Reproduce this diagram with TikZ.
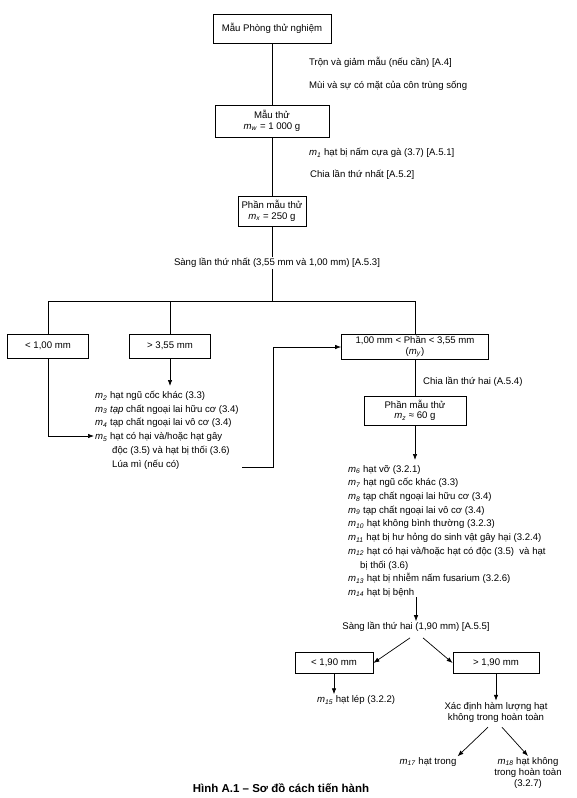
\documentclass[tikz,border=0pt]{standalone}
\usepackage{fontspec}
\setmainfont{Liberation Sans}
\usetikzlibrary{positioning, arrows.meta, calc}

\newcommand{\msub}[1]{\textit{m}\textsubscript{\textit{#1}}}

\begin{document}
\begin{tikzpicture}[
    x=1pt, y=-1pt,
    >=Latex,
    % Styles
    box/.style={
        rectangle,
        draw,
        line width=0.8pt,
        align=center,
        inner xsep=1pt,
        inner ysep=0.5pt,
        font=\fontsize{9.6}{10.5}\selectfont
    },
    note/.style={
        anchor=west,
        inner sep=1pt,
        font=\fontsize{9.6}{11}\selectfont
    },
    list/.style={
        anchor=north west,
        align=left,
        inner sep=0pt,
        font=\fontsize{9.6}{13.7}\selectfont
    },
    link/.style={
        line width=0.7pt
    },
    arrow/.style={
        -{Latex[length=6pt, width=4.5pt]},
        line width=0.7pt
    }
]
    \useasboundingbox (0,0) rectangle (576,798);

    % Main column
    \node[box, minimum width=118pt, minimum height=29pt] (lab) at (272,28.5) {Mẫu Phòng thử nghiệm};
    \node[note] (mix) at (308,62) {Trộn và giảm mẫu (nếu cần) [A.4]};
    \node[note] (odour) at (308,86) {Mùi và sự có mặt của côn trùng sống};
    \node[box, minimum width=114pt, minimum height=32pt] (test) at (272,121) {Mẫu thử\\ \msub{w} = 1 000 g};
    \node[note] (ergot) at (308,153) {\msub{1} hạt bị nấm cựa gà (3.7) [A.5.1]};
    \node[note] (split1) at (309,175) {Chia lần thứ nhất [A.5.2]};
    \node[box, minimum width=68pt, minimum height=30pt] (portion) at (272,211) {Phần mẫu thử\\ \msub{x} = 250 g};
    \node[note, anchor=center] (sieveA) at (277,263) {Sàng lần thứ nhất (3,55 mm và 1,00 mm) [A.5.3]};
    \coordinate (split) at (272,301);

    % First sieving
    \node[box, minimum width=81pt, minimum height=24pt] (fine) at (48,346) {< 1,00 mm};
    \node[box, minimum width=81pt, minimum height=24pt] (coarse) at (170,346) {> 3,55 mm};
    \node[box, minimum width=147pt, minimum height=25pt] (middle) at (415,347) {1,00 mm < Phần < 3,55 mm\\ (\msub{y})};
    \node[list] (others) at (95,391) {\msub{2} hạt ngũ cốc khác (3.3)\\
        \msub{3} \textit{tạp} chất ngoại lai hữu cơ (3.4)\\
        \msub{4} tạp chất ngoại lai vô cơ (3.4)\\
        \msub{5} hạt có hại và/hoặc hạt gây\\
        \hspace*{17pt}độc (3.5) và hạt bị thối (3.6)\\
        \hspace*{17pt}Lúa mì (nếu có)};
    \coordinate (harmful) at (94,436);
    \coordinate (wheat) at (242,467);

    % Second division
    \node[note] (split2) at (422,382) {Chia lần thứ hai (A.5.4)};
    \node[box, minimum width=102pt, minimum height=29pt] (sub) at (415,410.5) {Phần mẫu thử\\ \msub{z} ≈ 60 g};
    \node[list] (defects) at (348,465) {\msub{6} hạt vỡ (3.2.1)\\
        \msub{7} hạt ngũ cốc khác (3.3)\\
        \msub{8} tạp chất ngoại lai hữu cơ (3.4)\\
        \msub{9} tạp chất ngoại lai vô cơ (3.4)\\
        \msub{10} hạt không bình thường (3.2.3)\\
        \msub{11} hạt bị hư hỏng do sinh vật gây hại (3.2.4)\\
        \msub{12} hạt có hại và/hoặc hạt có độc (3.5)\ \ và hạt\\
        \hspace*{12pt}bị thối (3.6)\\
        \msub{13} hạt bị nhiễm nấm fusarium (3.2.6)\\
        \msub{14} hạt bị bệnh};

    % Second sieving
    \node[note, anchor=center] (sieveB) at (416,627) {Sàng lần thứ hai (1,90 mm) [A.5.5]};
    \node[box, minimum width=78pt, minimum height=21pt] (thin) at (334,663) {< 1,90 mm};
    \node[box, minimum width=86pt, minimum height=21pt] (plump) at (496,663) {> 1,90 mm};
    \node[note] (shrunken) at (316,700) {\msub{15} hạt lép (3.2.2)};
    \node[note, anchor=center, align=center] (vitreous) at (496,712) {Xác định hàm lượng hạt\\ không trong hoàn toàn};
    \node[note, anchor=center] (clear) at (428,762) {\msub{17} hạt trong};
    \node[note, anchor=north, align=center] (opaque) at (528,756) {\msub{18} hạt không\\ trong hoàn toàn\\ (3.2.7)};

    \node[font=\bfseries\fontsize{11.5}{14}\selectfont] (caption) at (281,788) {Hình A.1 – Sơ đồ cách tiến hành};

    % Paths
    \draw[link] (lab) -- (test);
    \draw[link] (test) -- (portion);
    \draw[link] (portion.south) -- (portion.south |- sieveA.north);
    \draw[link] (sieveA.south -| split) -- (split);
    \draw[link] (split) -| (fine.north);
    \draw[link] (split) -| (coarse.north);
    \draw[link] (split) -| (middle.north);
    \draw[arrow] (coarse.south) -- ([yshift=5pt]coarse.south |- others.north);
    \draw[arrow] (fine.south) |- (harmful);
    \draw[arrow] (wheat) -- ++(31,0) |- (middle.west);
    \draw[link] (middle) -- (sub);
    \draw[arrow] (sub.south) -- ([yshift=5pt]sub.south |- defects.north);
    \draw[arrow] (sieveB.north |- defects.south) -- (sieveB.north);
    \draw[arrow] ([xshift=-6pt, yshift=-5pt]sieveB.south) -- (thin.east);
    \draw[arrow] ([xshift=7pt, yshift=-5pt]sieveB.south) -- (plump.west);
    \draw[arrow] (thin.south) -- (thin.south |- shrunken.north);
    \draw[arrow] (plump.south) -- (vitreous.north);
    \draw[arrow] ([xshift=-8pt, yshift=-4pt]vitreous.south) -- (clear.north east);
    \draw[arrow] ([xshift=6pt, yshift=-4pt]vitreous.south) -- (opaque.north);
\end{tikzpicture}
\end{document}
